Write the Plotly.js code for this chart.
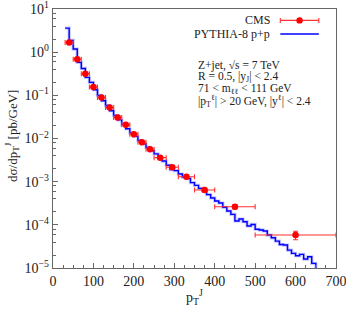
<!DOCTYPE html>
<html>
<head>
<meta charset="utf-8">
<script src="https://cdn.plot.ly/plotly-3.0.1.min.js"></script>
<style>html,body{margin:0;padding:0;background:#fff;}#plot{width:346px;height:309px;}</style>
</head>
<body>
<div id="plot"></div>
<script>
// CMS data points
var cmsPt = [40, 60, 80, 100, 120, 140, 160, 180, 200, 220, 240, 265, 295, 330, 375, 450, 600];
var cmsPtErr = [10, 10, 10, 10, 10, 10, 10, 10, 10, 10, 10, 15, 15, 20, 25, 50, 100];
var cmsXsec = [1.68, 0.69, 0.315, 0.155, 0.089, 0.052, 0.0306, 0.0207, 0.0126, 0.0082, 0.00565, 0.0036, 0.00216, 0.0013, 0.00064, 0.000263, 0.000058];
var cmsXsecErr = [0.08, 0.03, 0.014, 0.007, 0.004, 0.0024, 0.0014, 0.001, 0.0006, 0.0004, 0.0003, 0.0002, 0.00012, 0.00008, 0.00005, 0.00003, 0.000013];

// PYTHIA-8 histogram (left bin edges, 10 GeV bins) ; last entry closes the histogram at 650 GeV
var pythiaEdges = [30, 40, 50, 60, 70, 80, 90, 100, 110, 120, 130, 140, 150, 160, 170, 180, 190, 200, 210, 220,
  230, 240, 250, 260, 270, 280, 290, 300, 310, 320, 330, 340, 350, 360, 370, 380, 390, 400, 410, 420,
  430, 440, 450, 460, 470, 480, 490, 500, 510, 520, 530, 540, 550, 560, 570, 580, 590, 600, 610, 620,
  630, 640, 650];
var pythiaXsec = [3.6, 1.87, 1.18, 0.58, 0.42, 0.26, 0.20, 0.135, 0.10, 0.075, 0.058, 0.044, 0.034, 0.027, 0.021, 0.0168, 0.0135, 0.0112, 0.0090, 0.0075,
  0.0062, 0.0052, 0.0044, 0.0036, 0.0030, 0.0024, 0.0019, 0.0018, 0.0015, 0.00128, 0.00118, 0.00095, 0.00082, 0.00070, 0.00060, 0.00050, 0.00042, 3.56e-4, 3.2e-4, 2.55e-4,
  2.09e-4, 1.75e-4, 1.23e-4, 1.36e-4, 1.18e-4, 9.4e-5, 1.02e-4, 7.9e-5, 7.6e-5, 7.2e-5, 5.8e-5, 5.0e-5, 4.2e-5, 3.5e-5, 3.4e-5, 2.6e-5, 2.18e-5, 1.92e-5, 2.07e-5, 1.61e-5,
  1.82e-5, 1.28e-5, 1e-7];

// axis ticks
var yTickVals = [1e-5, 1e-4, 1e-3, 1e-2, 1e-1, 1, 10];
var yTickText = ['10<sup>\u22125</sup>', '10<sup>\u22124</sup>', '10<sup>\u22123</sup>', '10<sup>\u22122</sup>', '10<sup>\u22121</sup>', '10<sup>0</sup>', '10<sup>1</sup>'];
var xTickVals = [0, 100, 200, 300, 400, 500, 600, 700];

var yMinor = [];
for (var e = -5; e < 1; e++) { [2, 4, 6, 8].forEach(function (m) { yMinor.push(m * Math.pow(10, e)); }); }

var L = 53, R = 336.5, T = 9.3, B = 268;
function px(x) { return (x - L) / (R - L); }
function py(y) { return (B - y) / (B - T); }

var FONT = 'Liberation Serif, Times New Roman, serif';
var TXT = '#222';

var traces = [
  {
    x: pythiaEdges, y: pythiaXsec, type: 'scatter', mode: 'lines',
    line: { shape: 'hv', color: 'rgba(90,90,255,0.35)', width: 3.2 },
    hoverinfo: 'skip', showlegend: false
  },
  {
    x: pythiaEdges, y: pythiaXsec, type: 'scatter', mode: 'lines', name: 'PYTHIA-8 p+p',
    line: { shape: 'hv', color: '#0000ff', width: 1.4 }, showlegend: false
  },
  {
    x: cmsPt, y: cmsXsec, type: 'scatter', mode: 'markers', name: 'CMS',
    marker: { color: '#ff0000', size: 6.5 },
    error_x: { type: 'data', array: cmsPtErr, color: '#ff3030', thickness: 1.1, width: 2.5 },
    error_y: { type: 'data', array: cmsXsecErr, color: '#ff3030', thickness: 1.1, width: 2.5 },
    showlegend: false
  }
];

var axisCommon = {
  showgrid: false, zeroline: false, showline: true, linecolor: '#666', linewidth: 1.2,
  mirror: true, ticks: 'inside', tickcolor: '#666', ticklen: 5, ticklabeloverflow: 'allow',
  tickfont: { family: FONT, size: 14, color: TXT }
};

var layout = {
  width: 346, height: 309,
  margin: { l: L, r: 346 - R, t: T, b: 309 - B, pad: 0 },
  paper_bgcolor: '#fff', plot_bgcolor: '#fff',
  showlegend: false,
  xaxis: Object.assign({}, axisCommon, {
    range: [0, 700], tickmode: 'array', tickvals: xTickVals,
    minor: { dtick: 25, tick0: 0, ticks: 'inside', ticklen: 3, tickcolor: '#666', showgrid: false }
  }),
  yaxis: Object.assign({}, axisCommon, {
    type: 'log', range: [-5.0002, 1.0002], tickmode: 'array', tickvals: yTickVals, ticktext: yTickText,
    minor: { tickmode: 'array', tickvals: yMinor, ticks: 'inside', ticklen: 3, tickcolor: '#666', showgrid: false }
  }),
  annotations: [
    { xref: 'paper', yref: 'paper', x: 0.5, y: py(297), xanchor: 'center', yanchor: 'middle', showarrow: false,
      text: 'p<sub>T</sub><sup>J</sup>', font: { family: FONT, size: 14, color: TXT } },
    { xref: 'paper', yref: 'paper', x: px(12), y: py(136), xanchor: 'center', yanchor: 'middle', showarrow: false, textangle: -90,
      text: 'd\u03c3/dp<sub>T</sub><sup>J</sup> [pb/GeV]', font: { family: FONT, size: 13, color: TXT } },
    { xref: 'paper', yref: 'paper', x: px(272), y: py(20.7), xanchor: 'right', yanchor: 'middle', showarrow: false,
      text: 'CMS', font: { family: FONT, size: 12, color: TXT } },
    { xref: 'paper', yref: 'paper', x: px(272), y: py(34.3), xanchor: 'right', yanchor: 'middle', showarrow: false,
      text: 'PYTHIA-8 p+p', font: { family: FONT, size: 12, color: TXT } },
    { xref: 'paper', yref: 'paper', x: px(196), y: py(65.5), xanchor: 'left', yanchor: 'middle', showarrow: false,
      text: 'Z+jet, \u221as = 7 TeV', font: { family: FONT, size: 11.5, color: TXT } },
    { xref: 'paper', yref: 'paper', x: px(196), y: py(77.5), xanchor: 'left', yanchor: 'middle', showarrow: false,
      text: 'R = 0.5, |y<sub>J</sub>| &lt; 2.4', font: { family: FONT, size: 11.5, color: TXT } },
    { xref: 'paper', yref: 'paper', x: px(196), y: py(89.5), xanchor: 'left', yanchor: 'middle', showarrow: false,
      text: '71 &lt; m<sub>\u2113\u2113</sub> &lt; 111 GeV', font: { family: FONT, size: 11.5, color: TXT } },
    { xref: 'paper', yref: 'paper', x: px(196), y: py(101), xanchor: 'left', yanchor: 'middle', showarrow: false,
      text: '|p<sub>T</sub><sup>\u2113</sup>| &gt; 20 GeV, |y<sup>\u2113</sup>| &lt; 2.4', font: { family: FONT, size: 11.5, color: TXT } }
  ],
  shapes: [
    { type: 'line', xref: 'paper', yref: 'paper', x0: px(280.7), x1: px(319.3), y0: py(20.7), y1: py(20.7), line: { color: '#ff3030', width: 1.1 } },
    { type: 'line', xref: 'paper', yref: 'paper', x0: px(280.7), x1: px(280.7), y0: py(18.2), y1: py(23.2), line: { color: '#ff3030', width: 1.1 } },
    { type: 'line', xref: 'paper', yref: 'paper', x0: px(319.3), x1: px(319.3), y0: py(18.2), y1: py(23.2), line: { color: '#ff3030', width: 1.1 } },
    { type: 'circle', xref: 'paper', yref: 'paper', x0: px(296.8), x1: px(303.2), y0: py(17.5), y1: py(23.9), fillcolor: '#ff0000', line: { color: '#ff0000', width: 0 } },
    { type: 'line', xref: 'paper', yref: 'paper', x0: px(280.7), x1: px(319.3), y0: py(34.3), y1: py(34.3), line: { color: '#0000ff', width: 1.4 } }
  ]
};

Plotly.newPlot('plot', traces, layout, { staticPlot: true, displayModeBar: false });
</script>
</body>
</html>
